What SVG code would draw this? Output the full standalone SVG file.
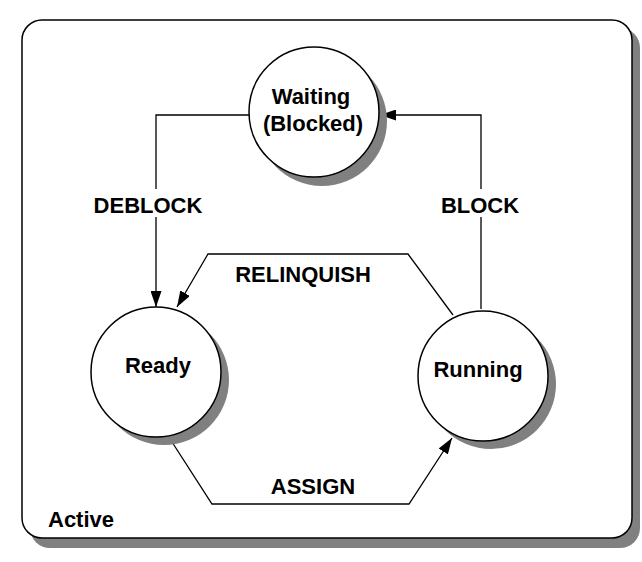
<svg xmlns="http://www.w3.org/2000/svg" width="642" height="562" viewBox="0 0 642 562">
<style>
.shadow{fill:#808080;stroke:none}
.body{fill:#fff;stroke:#000;stroke-width:1.5}
.lbl{font-family:"Liberation Sans",Arial,sans-serif;font-weight:bold;font-size:22px;fill:#000;text-anchor:middle}
.edge{fill:none;stroke:#000;stroke-width:1.3}
.bg{fill:#fff;stroke:none}
</style>
<defs>
<marker id="arr" viewBox="0 0 16 11" refX="16" refY="5.5" markerWidth="16" markerHeight="11" markerUnits="userSpaceOnUse" orient="auto">
<path d="M0,0 L16,5.5 L0,11 Z" fill="#000"/>
</marker>
</defs>
<g id="active">
<rect class="shadow" x="30" y="28" width="610" height="520" rx="20"/>
<rect class="body" x="22" y="20" width="610" height="518" rx="20"/>
<text class="lbl" x="48" y="527" style="text-anchor:start">Active</text>
</g>
<g id="connectors">
<path class="edge" d="M249,115 L156,115 L156,307" marker-end="url(#arr)"/>
<path class="edge" d="M481,309 L481,115 L380,115" marker-end="url(#arr)"/>
<path class="edge" d="M453,315 L408,254 L208,254 L177,307" marker-end="url(#arr)"/>
<path class="edge" d="M172,442 L212,504 L409,504 L452,438" marker-end="url(#arr)"/>
<rect class="bg" x="88" y="189" width="120" height="28"/>
<text class="lbl" x="148" y="213">DEBLOCK</text>
<rect class="bg" x="436" y="189" width="88" height="28"/>
<text class="lbl" x="480" y="213">BLOCK</text>
<text class="lbl" x="303" y="282">RELINQUISH</text>
<text class="lbl" x="313" y="494">ASSIGN</text>
</g>
<g id="waiting">
<circle class="shadow" cx="322" cy="121" r="65"/>
<circle class="body" cx="314" cy="112" r="65"/>
<text class="lbl" x="311" y="104">Waiting</text>
<text class="lbl" x="313" y="131">(Blocked)</text>
</g>
<g id="ready">
<circle class="shadow" cx="164" cy="380" r="65"/>
<circle class="body" cx="156" cy="372" r="65"/>
<text class="lbl" x="158" y="373">Ready</text>
</g>
<g id="running">
<circle class="shadow" cx="491" cy="384" r="65"/>
<circle class="body" cx="483" cy="376" r="65"/>
<text class="lbl" x="478" y="377">Running</text>
</g>
</svg>
